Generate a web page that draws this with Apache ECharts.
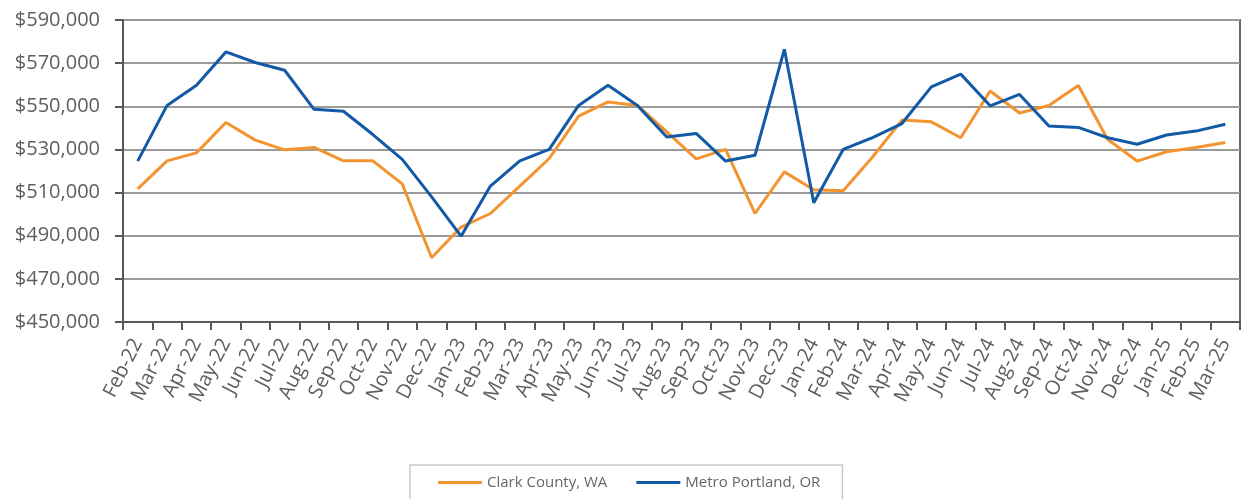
<!DOCTYPE html>
<html lang="en">
<head>
    <meta charset="UTF-8">
    <title>Clark County vs Metro Portland</title>
    <style>
        body, html {
            margin: 0;
            padding: 0;
            width: 100%;
            height: 100%;
            background: #fff;
        }

        #main {
            width: 1242px;
            height: 499px;
        }
    </style>
</head>
<body>
<div id="main"></div>
<script src="https://cdn.jsdelivr.net/npm/echarts@6/dist/echarts.min.js"></script>
<script>

    // 月份
    let months = ['Feb-22', 'Mar-22', 'Apr-22', 'May-22', 'Jun-22', 'Jul-22', 'Aug-22', 'Sep-22', 'Oct-22', 'Nov-22',
        'Dec-22', 'Jan-23', 'Feb-23', 'Mar-23', 'Apr-23', 'May-23', 'Jun-23', 'Jul-23', 'Aug-23', 'Sep-23',
        'Oct-23', 'Nov-23', 'Dec-23', 'Jan-24', 'Feb-24', 'Mar-24', 'Apr-24', 'May-24', 'Jun-24', 'Jul-24',
        'Aug-24', 'Sep-24', 'Oct-24', 'Nov-24', 'Dec-24', 'Jan-25', 'Feb-25', 'Mar-25'];

    let clarkCounty = [511700, 524700, 528400, 542500, 534300, 529800, 530900, 524700, 524700, 514000,
        479800, 494000, 500300, 513000, 525800, 545400, 552000, 550400, 538100, 525600,
        530000, 500300, 519600, 511300, 510800, 526500, 543600, 542800, 535400, 557100,
        546900, 550400, 559600, 534600, 524600, 528900, 530900, 533200];

    let metroPortland = [524600, 550400, 559800, 575200, 570300, 566700, 548600, 547700, 536900, 525400,
        508000, 489800, 513000, 524700, 530000, 550400, 559800, 550400, 535800, 537400,
        524600, 527300, 576400, 505300, 530000, 535500, 542000, 559000, 564900, 550200,
        555500, 540900, 540200, 535400, 532400, 536700, 538500, 541700];

    let seriesNames = ['Clark County, WA', 'Metro Portland, OR'];
    let seriesColors = ['#f39431', '#1259a6'];

    let myChart = echarts.init(document.getElementById('main'));
    let labelFont = '"Open Sans", sans-serif';

    let option = {
        animation: false,
        grid: {
            left: 123,
            right: 2,
            top: 20,
            bottom: 177,
            show: true,
            borderColor: '#6b6b6b',
            borderWidth: 2
        },
        legend: {
            data: seriesNames,
            left: 410,
            top: 465,
            icon: 'rect',
            itemWidth: 44,
            itemHeight: 3,
            itemGap: 29,
            padding: [10, 22, 30, 28],
            borderColor: '#c8c8c8',
            borderWidth: 1.5,
            textStyle: {
                color: '#666',
                fontFamily: labelFont,
                fontSize: 15
            }
        },
        xAxis: {
            type: 'category',
            data: months,
            boundaryGap: true,
            axisLine: {lineStyle: {color: '#595959', width: 2}},
            axisTick: {show: true, length: 8, lineStyle: {color: '#595959', width: 2}},
            axisLabel: {
                interval: 0,
                rotate: 63,
                margin: 18,
                color: '#5e5e5e',
                fontFamily: labelFont,
                fontSize: 20
            },
            splitLine: {show: false}
        },
        yAxis: {
            type: 'value',
            min: 450000,
            max: 590000,
            interval: 20000,
            axisLine: {show: true, lineStyle: {color: '#595959', width: 2}},
            axisTick: {show: true, length: 8, lineStyle: {color: '#595959', width: 2}},
            axisLabel: {
                margin: 23,
                color: '#5e5e5e',
                fontFamily: labelFont,
                fontSize: 20,
                formatter: function (v) {
                    return '$' + v.toLocaleString('en-US');
                }
            },
            splitLine: {lineStyle: {color: '#9a9a9a', width: 2}}
        },
        series: [
            {
                name: seriesNames[0],
                type: 'line',
                data: clarkCounty,
                symbol: 'none',
                color: seriesColors[0],
                lineStyle: {width: 3}
            },
            {
                name: seriesNames[1],
                type: 'line',
                data: metroPortland,
                symbol: 'none',
                color: seriesColors[1],
                lineStyle: {width: 3}
            }
        ]
    };

    myChart.setOption(option);

</script>
</body>
</html>
